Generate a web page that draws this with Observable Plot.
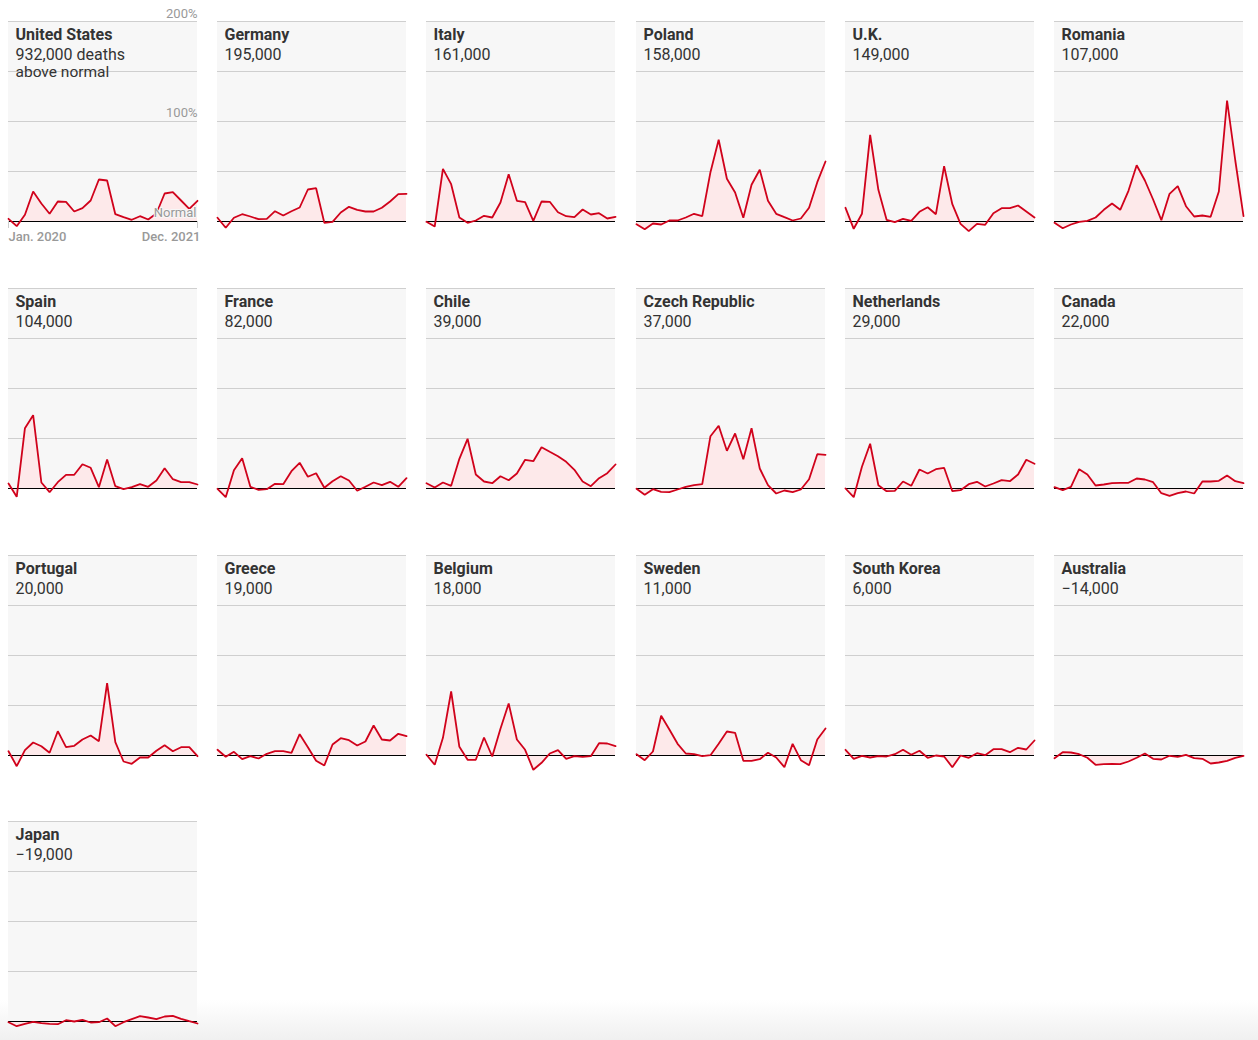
<!DOCTYPE html>
<html>
<head>
<meta charset="utf-8">
<script src="https://cdn.jsdelivr.net/npm/d3@7"></script>
<script src="https://cdn.jsdelivr.net/npm/@observablehq/plot@0.6"></script>
<style>
  html, body { margin: 0; padding: 0; background: #fff; }
  #wrap { position: relative; width: 1258px; height: 1040px; overflow: hidden; }
  #wrap svg { position: absolute; overflow: visible; }
  #fade { position: absolute; left: 0; top: 1000px; width: 1258px; height: 40px;
          background: linear-gradient(to bottom, rgba(238,238,238,0), rgba(236,236,236,0.8)); pointer-events: none; }
</style>
</head>
<body>
<div id="wrap"><div id="fade"></div></div>
<script>
// Excess deaths, % above normal, monthly Jan. 2020 – Dec. 2021
const countries = ["United States","Germany","Italy","Poland","U.K.","Romania",
  "Spain","France","Chile","Czech Republic","Netherlands","Canada",
  "Portugal","Greece","Belgium","Sweden","South Korea","Australia","Japan"];
const totals = ["932,000 deaths","195,000","161,000","158,000","149,000","107,000",
  "104,000","82,000","39,000","37,000","29,000","22,000",
  "20,000","19,000","18,000","11,000","6,000","−14,000","−19,000"];
const totalsNote = "above normal";
const monthLabels = ["Jan. 2020","Dec. 2021"];
const gridTicks = [50, 100, 150, 200];

const unitedStates = [2.7,-4.7,6.7,30,18,7.7,20,19.7,10,13.3,21,42,41,7.3,4.3,1.7,5.3,2,8,28,29.3,21,12.7,20.7];
const germany = [3.7,-6.3,3.7,7.3,5,2.3,2.7,10.3,6,10.3,14,32,33.3,-1.3,-0.3,9,14.7,11.7,10,10,13.7,20,27.3,27.7];
const italy = [-0.3,-5,52.7,37.3,4,-1.3,1,5.7,4,19,47.3,20.7,19.3,0.7,20,19.7,9.3,5.3,4.3,12,7,8.3,3,4.7];
const poland = [-2.7,-7.7,-2,-3,1,1,4,7.7,5.3,49.3,81.7,42.7,29,3.7,36.7,51.7,20.7,7.7,4.3,1,3,13.7,39.3,60];
const uk = [13.7,-7.3,7.7,86.7,31.7,1.7,-0.7,2.7,0.7,9.7,14.3,7.3,55.3,17.3,-2.3,-9.7,-2.3,-3.3,8.3,13.3,13.3,16,10,4];
const romania = [-1.3,-6.7,-3,-0.3,0.7,4,11.7,18,11.7,30.7,56.3,41,22,1.3,27.7,35.3,15.3,5,6,4.7,30,121,61,5.3];
const spain = [5,-8.3,60.3,73.3,6,-3.7,6.3,13.7,13.7,24.3,20.7,1.3,29,2.3,-0.7,1.3,4.3,1.7,8,20.3,9.3,6.3,6.3,4];
const france = [-0.3,-8.7,18.3,30.3,1.7,-1.3,-0.7,4.7,4.3,17.3,25.7,11.7,15.3,0.7,7.3,12.3,8,-2.3,1.7,6,3.3,6.7,1.7,10.3];
const chile = [5.3,1,6,2.7,29.7,49.7,14,7,5.3,12.3,8.3,15,28.7,27.3,41.3,36.7,32.3,26.7,18.7,7,2.3,10.3,15.3,24];
const czechRepublic = [-0.3,-6.3,-0.7,-3.3,-3.7,-1,1.7,3.3,4.3,52.3,62.7,37.7,55,29.3,60.3,20,3.3,-5,-2,-3.7,-1,9.3,34.3,33.7];
const netherlands = [0,-8.7,21.7,44.7,3.3,-2.7,-2.3,7,2.7,19,15,19.3,20.7,-2.7,-1.7,4.3,6.7,2,5,8.3,7.3,14,28.7,24.7];
const canada = [1.3,-1.7,1.7,19.3,14,3,4,5.3,5.7,5.7,10,9,6.3,-4.7,-7.3,-4.7,-3,-5,7,7,7.7,13,7.3,5.3];
const portugal = [4.3,-10.7,5.3,13,9.3,2.7,24.3,8.3,9.7,16,20,14.3,72.3,13.3,-6,-8.3,-2,-2,4.7,10.3,4.3,8.3,8.3,-0.7];
const greece = [5.7,-1.3,3.7,-3.7,-0.7,-3,1.7,4.3,4.3,2.7,21.3,8.3,-5.3,-10,11,17.3,15.3,10,14,30,16,15,21.7,19.3];
const belgium = [0.7,-9.3,17.7,64,8.7,-4.3,-4.3,18,-1,26.7,52,16,5.7,-14.3,-7.3,2,5.3,-3.3,-0.7,-1.3,-0.7,12.3,12,9.3];
const sweden = [1.3,-4.7,4,39.7,26,11.7,2,1.3,-0.7,0.3,11.7,24,22.7,-5.3,-5.3,-3.7,2.7,-2,-11.7,11.7,-4.7,-9.7,16,27];
const southKorea = [5.7,-3.3,-0.3,-2,-0.7,-1,1.3,5.7,0.7,4.7,-2.3,0,-1,-11.7,0,-2.3,2.3,0.3,6.3,6.3,3.3,7.7,6,15];
const australia = [-2.7,3.3,3,1.3,-2.3,-9.3,-8.7,-8.3,-8.7,-6,-2.3,2,-3.3,-4,-0.3,-1.3,0.7,-2.7,-3.3,-8,-7,-5.3,-2.3,-0.3];
const japan = [-0.7,-4.7,-2.3,-0.3,-1.7,-2.3,-2.7,1.3,0,1.7,-1,-0.7,3,-4.7,-0.7,2.3,5.3,4,2.3,5,5.7,2.7,0.3,-2];

const series = [unitedStates, germany, italy, poland, uk, romania, spain, france, chile,
  czechRepublic, netherlands, canada, portugal, greece, belgium, sweden, southKorea, australia, japan];

const FONT = "Roboto, 'Helvetica Neue', Arial, sans-serif";
const RED = "#d0021b";
const wrap = document.getElementById("wrap");

countries.forEach((name, i) => {
  const col = i % 6, row = Math.floor(i / 6);
  const data = series[i].map((v, m) => ({m, v}));
  const isFirst = i === 0;
  const marks = [
    Plot.rect([0], {x1: 0, x2: 23, y1: 0, y2: 200, fill: "#f7f7f7"}),
    Plot.ruleY(gridTicks, {stroke: "#cfcfcf", strokeWidth: 1}),
    Plot.text([name], {frameAnchor: "top-left", lineAnchor: "top", dx: 7, dy: 7,
      fontFamily: FONT, fontSize: 16, fontWeight: 700, fill: "#333", letterSpacing: "-0.4px"}),
    Plot.text([totals[i]], {frameAnchor: "top-left", lineAnchor: "top", dx: 7, dy: 27,
      fontFamily: FONT, fontSize: 16, fill: "#333"})
  ];
  if (isFirst) {
    marks.push(Plot.text([totalsNote], {frameAnchor: "top-left", lineAnchor: "top", dx: 7, dy: 44,
      fontFamily: FONT, fontSize: 15.5, fill: "#333"}));
  }
  marks.push(
    Plot.areaY(data, {x: "m", y: "v", fill: "#fde9ea"}),
    Plot.ruleY([0], {stroke: "#000", strokeWidth: 1}),
    Plot.lineY(data, {x: "m", y: "v", stroke: RED, strokeWidth: 1.8, strokeLinejoin: "miter"})
  );
  if (isFirst) {
    marks.push(
      Plot.text(["200%"], {x: 23, y: 200, textAnchor: "end", dy: -8, fontFamily: FONT, fontSize: 13, fill: "#999"}),
      Plot.text(["100%"], {x: 23, y: 100, textAnchor: "end", dy: -9, fontFamily: FONT, fontSize: 13, fill: "#999"}),
      Plot.text(["Normal"], {x: 23, y: 0, textAnchor: "end", dx: -1, dy: -9, fontFamily: FONT, fontSize: 13,
        fill: "#999", stroke: "#f7f7f7", strokeWidth: 2}),
      Plot.ruleX([0, 23], {y1: 0, y2: -7, stroke: "#ccc"}),
      Plot.text([monthLabels[0]], {x: 0, y: -15, textAnchor: "start", fontFamily: FONT, fontSize: 13, fontWeight: 500, fill: "#999"}),
      Plot.text([monthLabels[1]], {x: 23, y: -15, textAnchor: "end", dx: 3, fontFamily: FONT, fontSize: 13, fontWeight: 500, fill: "#999"})
    );
  }
  const svg = Plot.plot({
    width: 209, height: 267,
    marginLeft: 8, marginRight: 12, marginTop: 21, marginBottom: 24,
    x: {domain: [0, 23], axis: null},
    y: {domain: [-22, 200], axis: null},
    style: {background: "transparent", fontFamily: FONT, overflow: "visible"},
    marks
  });
  svg.style.left = (col * 209.2) + "px";
  svg.style.top = (row * 266.8) + "px";
  wrap.appendChild(svg);
});
</script>
</body>
</html>
